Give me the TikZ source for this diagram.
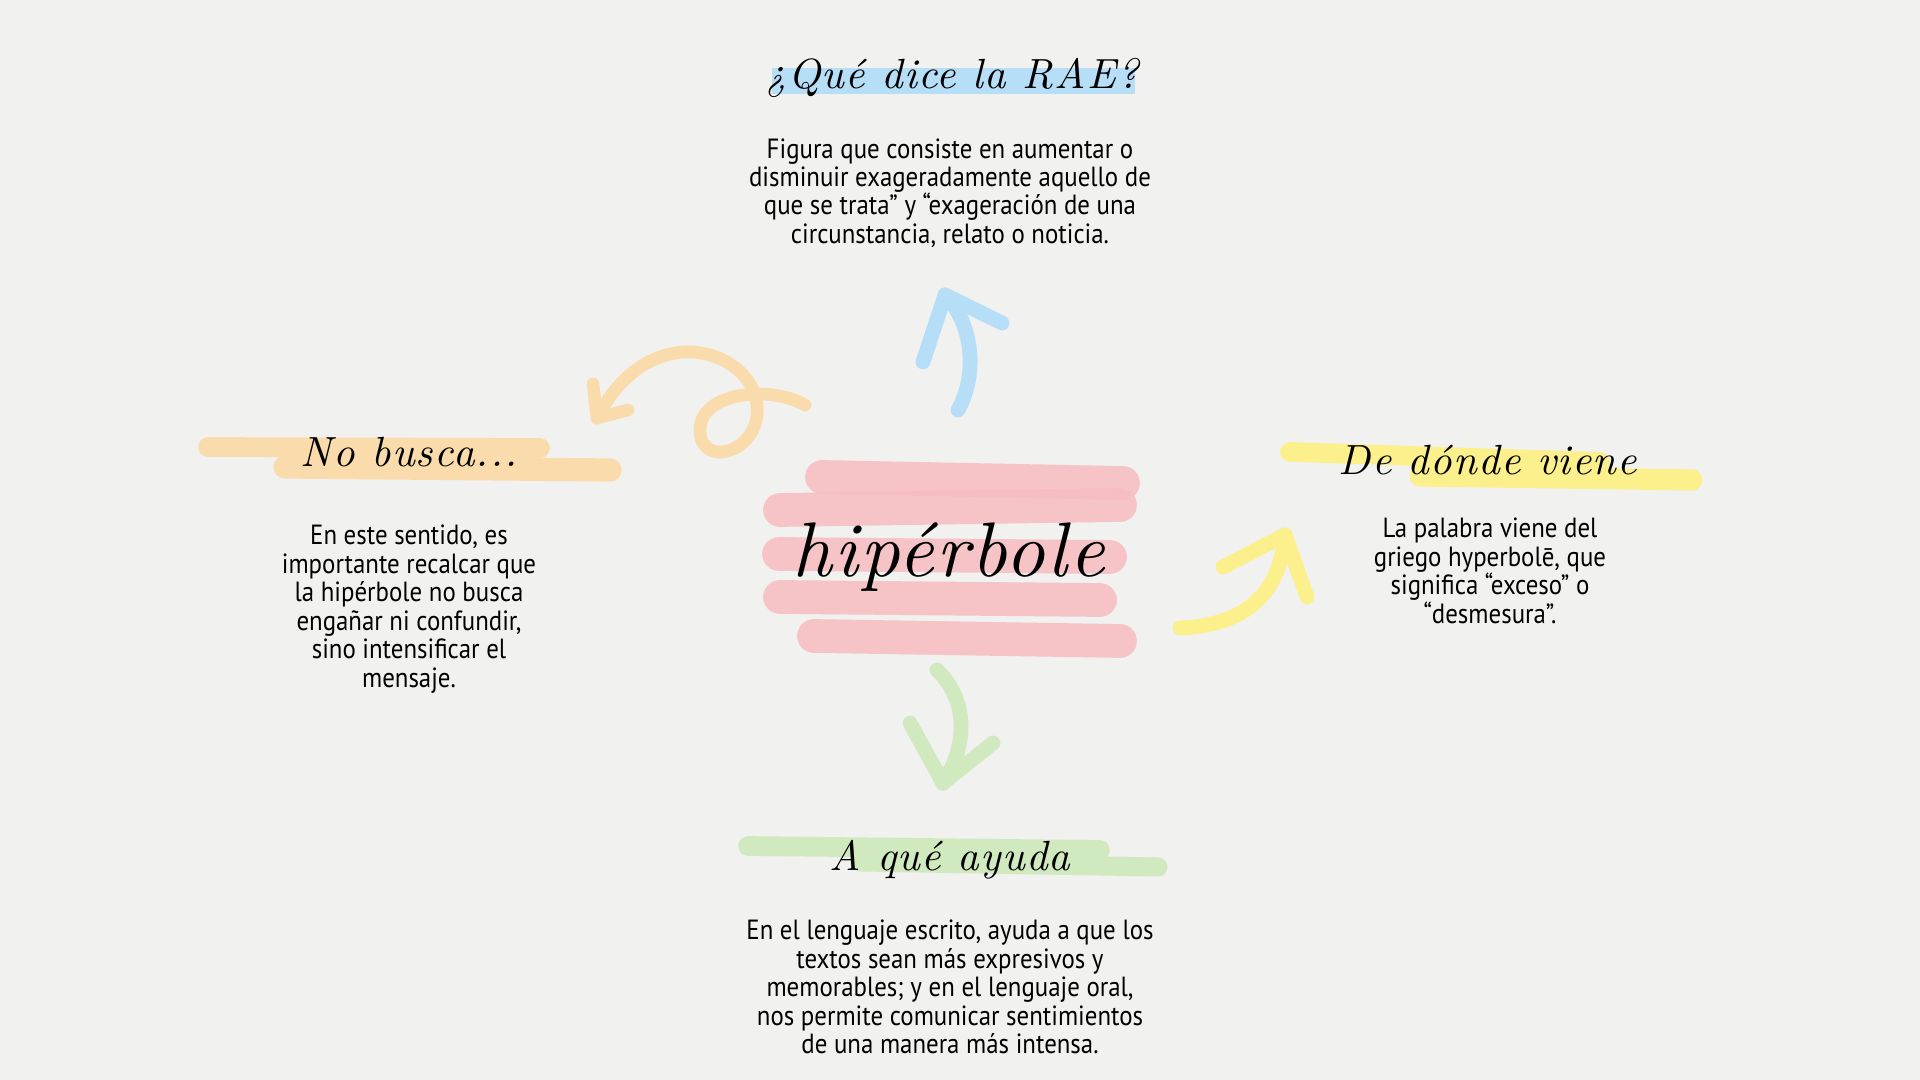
\documentclass[tikz,border=0pt]{standalone}
\usepackage{fontspec}
\usepackage{tikz}
\newfontfamily\bodyfont{PT Sans}[FakeStretch=0.895]
\newfontfamily\handfont{lmroman10-italic}[Extension=.otf,LetterSpace=3]
\definecolor{paper}{RGB}{241,241,240}
\definecolor{rosa}{RGB}{247,190,194}
\definecolor{celeste}{RGB}{182,222,246}
\definecolor{naranja}{RGB}{250,220,172}
\definecolor{amarillo}{RGB}{251,240,140}
\definecolor{verde}{RGB}{208,233,190}

\begin{document}
\begin{tikzpicture}[x=0.01cm,y=-0.01cm,
	brocha/.style={line cap=round,line width=#1},
	trazo/.style={line cap=round,line join=round,line width=4.2pt},
	titulo/.style={font=\handfont\fontsize{12}{14}\selectfont},
	texto/.style={align=center,font=\bodyfont\fontsize{7.9}{8.1}\selectfont}]
	\fill[paper] (0,0) rectangle (1920,1080);
	\useasboundingbox (0,0) rectangle (1920,1080);

	\draw[brocha=7.6pt,celeste,line cap=butt] (772,81) -- (1135,81);
	\draw[brocha=5.6pt,naranja] (208,447) -- (540,448);
	\draw[brocha=6.6pt,naranja] (285,467) -- (610,470);
	\draw[brocha=5.6pt,amarillo] (1290,452) -- (1600,462);
	\draw[brocha=6pt,amarillo] (1420,476) -- (1692,480);
	\draw[brocha=5.6pt,verde] (748,846) -- (1100,850);
	\draw[brocha=5.4pt,verde] (860,862) -- (1158,867);
	\draw[brocha=9.6pt,rosa,opacity=.9] (822,477) -- (1123,483);
	\draw[brocha=9.6pt,rosa,opacity=.9] (780,510) -- (1120,505);
	\draw[brocha=9.6pt,rosa,opacity=.9] (779,554) -- (1110,557);
	\draw[brocha=9.6pt,rosa,opacity=.9] (780,597) -- (1100,600);
	\draw[brocha=9.6pt,rosa,opacity=.9] (814,636) -- (1120,641);

	\coordinate (azulIni) at (958,410);
	\coordinate (azulPunta) at (945,295);
	\draw[trazo,celeste] (azulIni) .. controls (980,370) and (970,320) .. (azulPunta);
	\draw[trazo,celeste] (azulPunta) -- ++(-22,67);
	\draw[trazo,celeste] (azulPunta) -- ++(57,28);

	\coordinate (naranjaIni) at (805,405);
	\coordinate (naranjaPunta) at (597,418);
	\draw[trazo,naranja,line width=3.6pt] (naranjaIni) .. controls (770,385) and (700,392) .. (700,430)
		.. controls (700,470) and (762,452) .. (757,405)
		.. controls (752,350) and (650,315) .. (naranjaPunta);
	\draw[trazo,naranja,line width=3.6pt] (naranjaPunta) -- ++(-4,-34);
	\draw[trazo,naranja,line width=3.6pt] (naranjaPunta) -- ++(31,-8);

	\coordinate (amarilloIni) at (1180,628);
	\coordinate (amarilloPunta) at (1285,535);
	\draw[trazo,amarillo] (amarilloIni) .. controls (1250,625) and (1280,590) .. (amarilloPunta);
	\draw[trazo,amarillo] (amarilloPunta) -- ++(-62,32);
	\draw[trazo,amarillo] (amarilloPunta) -- ++(22,62);

	\coordinate (verdeIni) at (937,670);
	\coordinate (verdePunta) at (943,783);
	\draw[trazo,verde] (verdeIni) .. controls (968,700) and (968,745) .. (verdePunta);
	\draw[trazo,verde] (verdePunta) -- ++(-33,-60);
	\draw[trazo,verde] (verdePunta) -- ++(50,-40);

	\node[font=\handfont\fontsize{22}{26}\selectfont] (hiper) at (949,557) {hipérbole};

	\node[titulo] (rae) at (952,78) {¿Qué dice la RAE?};
	\node[texto] (raeTexto) at (950,193) {Figura que consiste en aumentar o\\disminuir exageradamente aquello de\\que se trata” y “exageración de una\\circunstancia, relato o noticia.};

	\node[titulo] (noBusca) at (409,452) {No busca...};
	\node[texto] (noBuscaTexto) at (409,609) {En este sentido, es\\importante recalcar que\\la hipérbole no busca\\engañar ni confundir,\\sino intensificar el\\mensaje.};

	\node[titulo] (deDonde) at (1488,460) {De dónde viene};
	\node[texto] (deDondeTexto) at (1490,571) {La palabra viene del\\griego hyperbolē, que\\significa “exceso” o\\“desmesura”.};

	\node[titulo] (aQue) at (950,860) {A qué ayuda};
	\node[texto] (aQueTexto) at (950,987) {En el lenguaje escrito, ayuda a que los\\textos sean más expresivos y\\memorables; y en el lenguaje oral,\\nos permite comunicar sentimientos\\de una manera más intensa.};
\end{tikzpicture}
\end{document}
